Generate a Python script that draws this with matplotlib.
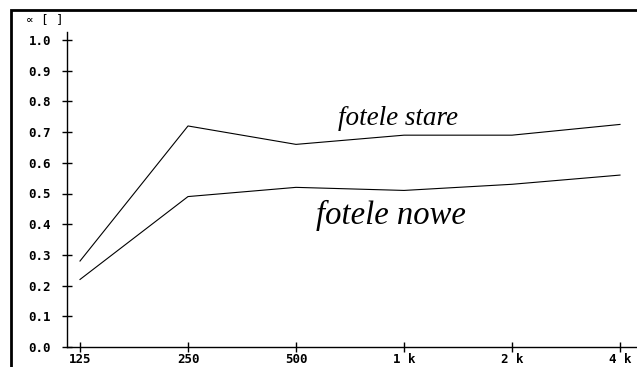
import matplotlib
matplotlib.use("Agg")
import matplotlib.pyplot as plt
from matplotlib.patches import Rectangle

# frequency bands and absorption coefficients
bands = ["125", "250", "500", "1 k", "2 k", "4 k"]
fotele_stare = [0.28, 0.72, 0.66, 0.69, 0.69, 0.725]
fotele_nowe = [0.22, 0.49, 0.52, 0.51, 0.53, 0.56]
y_ticks = [0.0, 0.1, 0.2, 0.3, 0.4, 0.5, 0.6, 0.7, 0.8, 0.9, 1.0]

W, H = 637, 367
fig = plt.figure(figsize=(W / 100, H / 100), dpi=100)
ax = fig.add_axes([67 / W, (H - 347) / H, (W - 67) / W, (347 - 32) / H])

x = list(range(len(bands)))
ax.plot(x, fotele_stare, color="black", lw=0.8)
ax.plot(x, fotele_nowe, color="black", lw=0.8)

ax.set_xlim(-13 / 108, (W - 80) / 108)
ax.set_ylim(0, (347 - 32) / 307)

for s in ["top", "right"]:
    ax.spines[s].set_visible(False)
for s in ["left", "bottom"]:
    ax.spines[s].set_linewidth(1.0)

tick_font = dict(family="DejaVu Sans Mono", weight="bold", size=9)
ax.set_xticks(x)
ax.set_xticklabels(bands, fontdict=tick_font)
ax.set_yticks(y_ticks)
ax.set_yticklabels([f"{v:.1f}" for v in y_ticks], fontdict=tick_font)
ax.tick_params(axis="both", direction="inout", length=7, width=1.0)
ax.tick_params(axis="y", pad=8)
ax.tick_params(axis="x", pad=1)

ax.text(2.94, 0.745, "fotele stare", family="Liberation Serif", style="italic",
        fontsize=19.5, ha="center", va="center")
ax.text(2.88, 0.43, "fotele nowe", family="Liberation Serif", style="italic",
        fontsize=23.5, ha="center", va="center")

fig.text(26 / W, 1 - 20 / H, "\u221d [ ]", family="DejaVu Sans Mono", size=9,
         ha="left", va="center")

fig.patches.append(Rectangle((11 / W, -0.05), 1.1, 1 - 10 / H + 0.05,
                             transform=fig.transFigure, fill=False,
                             edgecolor="black", lw=2))

fig.savefig("out.png", dpi=100)
